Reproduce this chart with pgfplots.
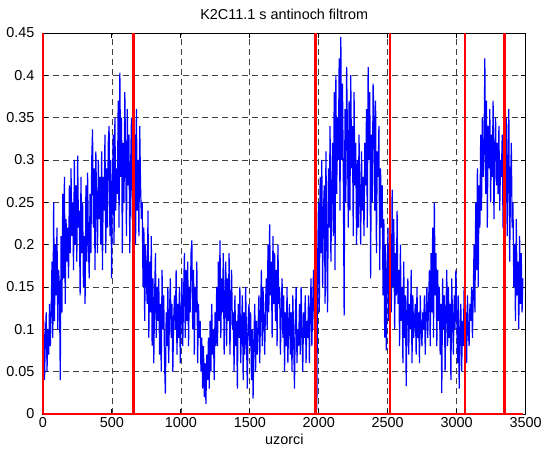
\documentclass[border=0pt]{standalone}
\usepackage{fontspec}
\setmainfont{Liberation Sans}
\usepackage{pgfplots}
\usepackage{pgfplotstable}
\pgfplotsset{compat=1.18}

% one sample value every 6 samples (x = 6*row)
\pgfplotstableread[row sep=\\]{
y\\
.06\\ .11\\ .04\\ .09\\ .12\\ .05\\ .10\\ .07\\ .13\\ .08\\
.12\\ .18\\ .09\\ .25\\ .11\\ .20\\ .14\\ .22\\ .10\\ .17\\
.15\\ .04\\ .21\\ .12\\ .26\\ .16\\ .28\\ .13\\ .23\\ .18\\
.22\\ .16\\ .27\\ .19\\ .29\\ .21\\ .25\\ .17\\ .30\\ .20\\
.27\\ .18\\ .305\\ .22\\ .24\\ .14\\ .28\\ .19\\ .25\\ .15\\
.21\\ .13\\ .27\\ .18\\ .285\\ .20\\ .16\\ .26\\ .19\\ .30\\
.336\\ .22\\ .29\\ .17\\ .31\\ .24\\ .19\\ .30\\ .23\\ .28\\
.20\\ .31\\ .17\\ .28\\ .24\\ .33\\ .19\\ .29\\ .22\\ .32\\
.34\\ .21\\ .30\\ .16\\ .27\\ .33\\ .20\\ .35\\ .24\\ .29\\
.26\\ .37\\ .22\\ .403\\ .28\\ .35\\ .19\\ .32\\ .25\\ .38\\
.30\\ .21\\ .36\\ .27\\ .33\\ .19\\ .29\\ .35\\ .23\\ .31\\
.26\\ .33\\ .20\\ .36\\ .24\\ .30\\ .21\\ .34\\ .27\\ .23\\
.25\\ .15\\ .22\\ .11\\ .20\\ .16\\ .13\\ .24\\ .09\\ .18\\
.12\\ .21\\ .08\\ .16\\ .06\\ .14\\ .19\\ .09\\ .15\\ .11\\
.16\\ .07\\ .13\\ .05\\ .17\\ .10\\ .14\\ .06\\ .024\\ .12\\
.08\\ .15\\ .06\\ .12\\ .16\\ .09\\ .13\\ .05\\ .11\\ .14\\
.10\\ .17\\ .07\\ .13\\ .09\\ .15\\ .06\\ .12\\ .16\\ .08\\
.14\\ .19\\ .09\\ .17\\ .11\\ .18\\ .08\\ .15\\ .12\\ .19\\
.205\\ .10\\ .17\\ .07\\ .15\\ .12\\ .18\\ .06\\ .13\\ .09\\
.11\\ .05\\ .09\\ .03\\ .08\\ .02\\ .06\\ .012\\ .07\\ .04\\
.09\\ .03\\ .11\\ .05\\ .13\\ .07\\ .10\\ .04\\ .12\\ .08\\
.15\\ .08\\ .18\\ .11\\ .205\\ .09\\ .16\\ .12\\ .19\\ .07\\
.14\\ .18\\ .08\\ .16\\ .11\\ .19\\ .07\\ .13\\ .17\\ .10\\
.12\\ .05\\ .14\\ .08\\ .11\\ .03\\ .13\\ .09\\ .15\\ .06\\
.10\\ .14\\ .04\\ .12\\ .07\\ .15\\ .09\\ .03\\ .11\\ .13\\
.08\\ .12\\ .04\\ .10\\ .018\\ .09\\ .13\\ .05\\ .11\\ .07\\
.10\\ .14\\ .06\\ .12\\ .17\\ .08\\ .15\\ .11\\ .07\\ .13\\
.16\\ .10\\ .20\\ .12\\ .224\\ .14\\ .18\\ .09\\ .21\\ .13\\
.19\\ .11\\ .17\\ .08\\ .20\\ .13\\ .15\\ .07\\ .12\\ .16\\
.09\\ .14\\ .05\\ .12\\ .08\\ .15\\ .06\\ .11\\ .13\\ .07\\
.12\\ .05\\ .14\\ .09\\ .03\\ .11\\ .15\\ .06\\ .10\\ .08\\
.13\\ .07\\ .15\\ .10\\ .05\\ .12\\ .09\\ .14\\ .06\\ .11\\
.09\\ .14\\ .06\\ .12\\ .16\\ .08\\ .13\\ .17\\ .10\\ .15\\
.20\\ .005\\ .18\\ .25\\ .12\\ .28\\ .19\\ .30\\ .15\\ .24\\
.27\\ .13\\ .31\\ .20\\ .12\\ .29\\ .22\\ .34\\ .18\\ .26\\
.32\\ .21\\ .38\\ .17\\ .40\\ .26\\ .35\\ .30\\ .42\\ .24\\
.445\\ .30\\ .39\\ .28\\ .116\\ .36\\ .25\\ .41\\ .33\\ .22\\
.37\\ .24\\ .40\\ .29\\ .34\\ .21\\ .38\\ .27\\ .32\\ .20\\
.30\\ .22\\ .33\\ .25\\ .20\\ .31\\ .24\\ .28\\ .21\\ .32\\
.27\\ .36\\ .22\\ .41\\ .30\\ .38\\ .16\\ .33\\ .25\\ .39\\
.35\\ .24\\ .37\\ .19\\ .31\\ .28\\ .34\\ .17\\ .29\\ .22\\
.27\\ .14\\ .23\\ .09\\ .20\\ .075\\ .16\\ .22\\ .11\\ .18\\
.21\\ .12\\ .265\\ .15\\ .23\\ .10\\ .19\\ .14\\ .24\\ .13\\
.17\\ .08\\ .20\\ .11\\ .15\\ .06\\ .18\\ .09\\ .14\\ .033\\
.12\\ .16\\ .07\\ .13\\ .10\\ .17\\ .06\\ .14\\ .09\\ .11\\
.13\\ .07\\ .15\\ .09\\ .12\\ .06\\ .14\\ .10\\ .08\\ .12\\
.10\\ .14\\ .07\\ .12\\ .15\\ .09\\ .13\\ .17\\ .08\\ .19\\
.12\\ .22\\ .09\\ .25\\ .14\\ .19\\ .08\\ .17\\ .11\\ .15\\
.07\\ .13\\ .025\\ .16\\ .10\\ .14\\ .05\\ .12\\ .17\\ .08\\
.15\\ .09\\ .13\\ .04\\ .16\\ .11\\ .07\\ .14\\ .10\\ .17\\
.12\\ .06\\ .14\\ .03\\ .10\\ .13\\ .05\\ .11\\ .08\\ .15\\
.09\\ .12\\ .06\\ .14\\ .10\\ .08\\ .13\\ .11\\ .15\\ .09\\
.14\\ .20\\ .12\\ .25\\ .17\\ .29\\ .15\\ .27\\ .22\\ .33\\
.24\\ .35\\ .28\\ .31\\ .42\\ .26\\ .37\\ .22\\ .34\\ .29\\
.36\\ .25\\ .33\\ .28\\ .37\\ .23\\ .31\\ .35\\ .27\\ .32\\
.26\\ .34\\ .24\\ .30\\ .28\\ .33\\ .22\\ .29\\ .31\\ .25\\
.35\\ .21\\ .30\\ .36\\ .18\\ .27\\ .32\\ .22\\ .25\\ .15\\
.20\\ .11\\ .23\\ .14\\ .18\\ .10\\ .21\\ .13\\ .19\\ .12\\
.16\\
}\signal

\begin{document}
\begin{tikzpicture}
\begin{axis}[
    width=484bp, height=382bp,
    scale only axis,
    font=\fontsize{14.5}{17}\selectfont,
    xmin=0, xmax=3500,
    ymin=0, ymax=0.45,
    xtick={0,500,...,3500},
    ytick={0,0.05,...,0.45},
    /pgf/number format/assume math mode=true,
    /pgf/number format/fixed,
    /pgf/number format/precision=2,
    /pgf/number format/set thousands separator={},
    yticklabel style={xshift=-5bp},
    grid=major,
    major grid style={black!75, dash pattern=on 6bp off 4bp, line width=0.6bp},
    axis line style={black, line width=0.8bp},
    tick style={black, line width=0.8bp},
    major tick length=5bp,
    tick align=inside,
    title={K2C11.1 s antinoch filtrom},
    title style={yshift=4bp},
    xlabel={uzorci},
    clip=false,
]
\addplot[blue, line width=1.2bp] table[x expr=\coordindex*6, y=y] {\signal};
\addplot[red, line width=2.5bp] coordinates {(0,0) (3480,0)};
\addplot[red, line width=2.5bp] coordinates {(0,0) (0,0.45)};
\addplot[red, line width=2.5bp] coordinates {(657,0) (657,0.45)};
\addplot[red, line width=2.5bp] coordinates {(1975,0) (1975,0.45)};
\addplot[red, line width=2.5bp] coordinates {(2515,0) (2515,0.45)};
\addplot[red, line width=2.5bp] coordinates {(3060,0) (3060,0.45)};
\addplot[red, line width=2.5bp] coordinates {(3345,0) (3345,0.45)};
\end{axis}
% page margins as in the reference figure
\path (current axis.south west) ++(-43bp,-40bp) rectangle ++(545bp,455bp);
\end{tikzpicture}
\end{document}
